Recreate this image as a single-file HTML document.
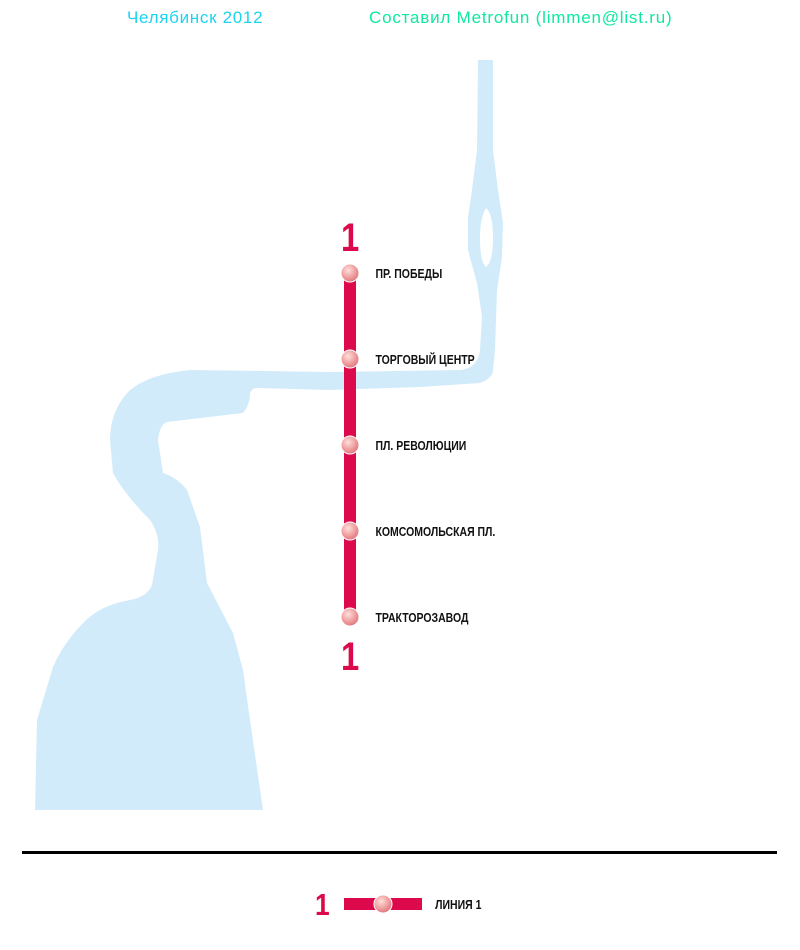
<!DOCTYPE html>
<html><head><meta charset="utf-8"><style>
html,body{margin:0;padding:0;background:#fff;}
body{width:800px;height:950px;position:relative;overflow:hidden;font-family:"Liberation Sans",sans-serif;}
</style></head><body>
<svg width="800" height="950" style="position:absolute;left:0;top:0">
<defs>
<radialGradient id="g" cx="0.4" cy="0.35" r="0.65">
<stop offset="0" stop-color="#fde0dc"/><stop offset="0.6" stop-color="#f0a0a0"/><stop offset="1" stop-color="#e07880"/>
</radialGradient>
</defs>
<path fill="#d2ebfa" fill-rule="evenodd" d="M478,60 L477,150 L472,190 L468,217 L468,250 L477,283 L482,317 L480,350 Q478,368 460,370 L330,372 L190,370 Q150,374 130,390 Q110,410 110,440 L113,473 Q125,495 150,520 Q160,535 158,550 L152,585 Q147,597 130,600 Q100,605 83,623 Q62,645 53,667 L37,720 L35,810 L263,810 L250,720 L243,670 L233,633 L207,583 L200,527 L187,490 Q178,478 163,473 L158,440 Q160,424 167,422 L243,413 Q250,405 250,393 Q252,388 257,388 L330,390 L420,387 L480,383 Q493,378 493,370 L495,350 L497,290 L502,257 L503,223 L498,190 L493,150 L493,60 Z M486,208 Q480,218 480,238 Q480,262 486,267 Q493,262 493,238 Q493,214 486,208 Z"/>
<rect x="344" y="273" width="12" height="344" fill="#dc0a4c"/>
<g fill="url(#g)" stroke="#fff" stroke-width="1">
<circle cx="350" cy="273" r="9"/><circle cx="350" cy="359" r="9"/><circle cx="350" cy="445" r="9"/><circle cx="350" cy="531" r="9"/><circle cx="350" cy="617" r="9"/>
</g>
<g font-family="Liberation Sans" font-weight="bold" fill="#dc0a4c">
<text transform="translate(341,251) scale(0.82,1)" font-size="40">1</text>
<text transform="translate(341,670) scale(0.82,1)" font-size="40">1</text>
<text transform="translate(315,915) scale(0.85,1)" font-size="31">1</text>
</g>
<g font-family="Liberation Sans" font-size="12.5" font-weight="bold" fill="#111" transform="scale(0.84,1)">
<text x="447" y="278">ПР. ПОБЕДЫ</text>
<text x="447" y="364">ТОРГОВЫЙ ЦЕНТР</text>
<text x="447" y="450">ПЛ. РЕВОЛЮЦИИ</text>
<text x="447" y="536">КОМСОМОЛЬСКАЯ ПЛ.</text>
<text x="447" y="622">ТРАКТОРОЗАВОД</text>
<text x="518" y="909">ЛИНИЯ 1</text>
</g>
<rect x="22" y="851" width="755" height="3" fill="#000"/>
<rect x="344" y="898" width="78" height="12" fill="#dc0a4c"/>
<circle cx="383" cy="904" r="9" fill="url(#g)" stroke="#fff"/>
<text x="127" y="23" font-family="Liberation Sans" font-size="17" letter-spacing="0.7" fill="#1ad4f0">Челябинск 2012</text>
<text x="369" y="23" font-family="Liberation Sans" font-size="17" letter-spacing="0.8" fill="#10e8a0">Составил Metrofun (limmen@list.ru)</text>
</svg>
</body></html>
